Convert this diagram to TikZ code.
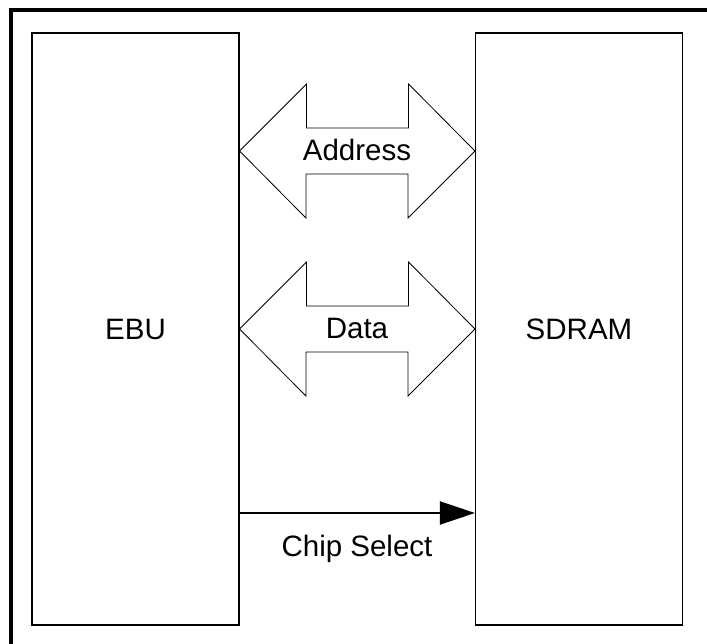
\documentclass[tikz,border=0pt]{standalone}
\usepackage{fontspec}
\setmainfont{Liberation Sans}
\usetikzlibrary{arrows.meta}
\tikzset{
  unit/.style={draw=black, line width=1.1pt, minimum width=207pt, minimum height=592pt,
    font=\fontsize{29.5}{35}\selectfont, inner sep=0pt},
  bus/.style={draw=black, line width=0.8pt, fill=white, line join=miter},
  lbl/.style={font=\fontsize{29.5}{35}\selectfont, anchor=base, inner sep=0pt},
  sel/.style={draw=black, line width=2pt, -{Triangle[length=35pt,width=23pt]}},
}
% wide double-headed bus arrow between the two units, centred at height #1
\newcommand\busarrow[1]{%
  \path[bus] (ebu.east |- 0,#1) -- ++(67,-67) -- ++(0,44) -- ++(102,0) -- ++(0,-44)
    -- (sdram.west |- 0,#1) -- ++(-67,67) -- ++(0,-44) -- ++(-102,0) -- ++(0,44) -- cycle;}
\begin{document}
\begin{tikzpicture}[x=1pt, y=-1pt]
  \useasboundingbox (0,0) rectangle (707,644);
  \clip (0,0) rectangle (707,644);
  % outer frame
  \draw[line width=4pt] (11,10) rectangle (730,670);
  % the two units
  \node[unit] (ebu) at (135.5,329) {EBU};
  \node[unit] (sdram) at (579,329) {SDRAM};
  % address and data buses
  \busarrow{151}
  \node[lbl] (addr) at (357,161) {Address};
  \busarrow{329}
  \node[lbl] (data) at (357,338) {Data};
  % chip select line
  \coordinate (csA) at (ebu.east |- 0,513);
  \coordinate (csB) at (sdram.west |- 0,513);
  \draw[sel] (csA) -- (csB);
  \node[lbl] (cs) at (357,556) {Chip Select};
\end{tikzpicture}
\end{document}
